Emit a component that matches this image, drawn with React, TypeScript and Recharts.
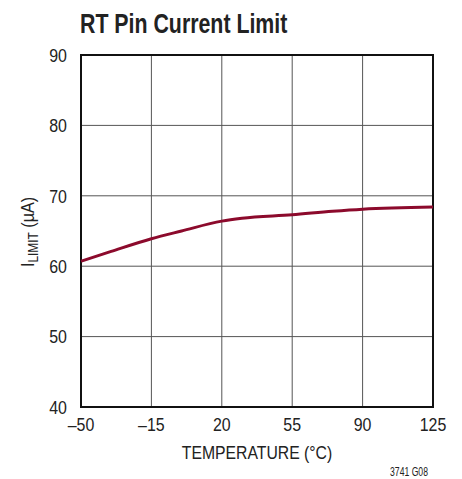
import React from "react";
import {
  CartesianGrid,
  Line,
  LineChart,
  ReferenceArea,
  XAxis,
  YAxis,
} from "recharts";

const temperature = [-50, -35, -15, 0, 20, 30, 55, 75, 90, 125];
const iLimit = [60.7, 62.1, 63.9, 65.0, 66.4, 66.8, 67.3, 67.8, 68.1, 68.4];
const xTicks = [-50, -15, 20, 55, 90, 125];
const yTicks = [40, 50, 60, 70, 80, 90];

const rows = temperature.map((t, i) => ({ t, v: iLimit[i] }));

const FONT = "'Liberation Sans', Arial, sans-serif";
const INK = "#222";
const dash = (v: number) => String(v).replace("-", "\u2013");

// narrow text: the original uses a condensed face, so squeeze a regular one
function Narrow({ x, y, sx = 0.84, size = 19, anchor = "middle", dy, children }: any) {
  return (
    <text
      transform={`translate(${x},${y}) scale(${sx},1)`}
      textAnchor={anchor}
      dy={dy}
      fontFamily={FONT}
      fontSize={size}
      fill={INK}
    >
      {children}
    </text>
  );
}

function XTick({ x, y, payload }: any) {
  return (
    <Narrow x={x} y={y} dy="0.71em">
      {dash(payload.value)}
    </Narrow>
  );
}

function YTick({ x, y, payload }: any) {
  return (
    <Narrow x={x} y={y} anchor="end" dy="0.355em">
      {payload.value}
    </Narrow>
  );
}

function YLabel() {
  return (
    <text
      transform="translate(34,232) rotate(-90) scale(0.85,1)"
      textAnchor="middle"
      fontFamily={FONT}
      fontSize={19}
      fill={INK}
    >
      I
      <tspan fontSize={14} dy={4}>LIMIT</tspan>
      <tspan dy={-4}> (µA)</tspan>
    </text>
  );
}

export default function App() {
  return (
    <div style={{ position: "absolute", left: 0, top: 0, width: 462, height: 479, background: "#fff" }}>
      <LineChart
        width={462}
        height={479}
        data={rows}
        margin={{ top: 55, right: 29, bottom: 0, left: 0 }}
      >
        <CartesianGrid stroke="#555" strokeWidth={1} />
        <XAxis
          dataKey="t"
          type="number"
          domain={[-50, 125]}
          ticks={xTicks}
          axisLine={false}
          tickLine={false}
          height={72}
          tick={<XTick />}
          tickMargin={4}
          interval={0}
        />
        <YAxis
          type="number"
          domain={[40, 90]}
          ticks={yTicks}
          axisLine={false}
          tickLine={false}
          width={81}
          tick={<YTick />}
          tickMargin={8}
          interval={0}
        />
        <ReferenceArea
          x1={-50}
          x2={125}
          y1={40}
          y2={90}
          fill="none"
          fillOpacity={0}
          stroke="#111"
          strokeWidth={2}
          ifOverflow="visible"
        />
        <Line
          dataKey="v"
          type="monotone"
          stroke="#8c0a2c"
          strokeWidth={3}
          dot={false}
          isAnimationActive={false}
        />
        <text
          transform="translate(80,33) scale(0.79,1)"
          fontFamily={FONT}
          fontWeight="bold"
          fontSize={27}
          fill={INK}
        >
          RT Pin Current Limit
        </text>
        <YLabel />
        <Narrow x={257} y={459} sx={0.83}>
          TEMPERATURE (°C)
        </Narrow>
        <Narrow x={409} y={476} sx={0.72} size={12}>
          3741 G08
        </Narrow>
      </LineChart>
    </div>
  );
}
